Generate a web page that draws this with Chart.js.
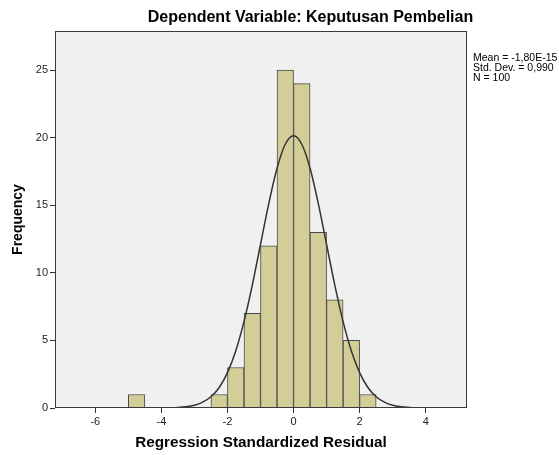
<!DOCTYPE html>
<html>
<head>
<meta charset="utf-8">
<script src="https://cdn.jsdelivr.net/npm/chart.js@4/dist/chart.umd.min.js"></script>
<style>
  html, body { margin: 0; padding: 0; background: #fff; }
  #wrap { width: 559px; height: 455px; position: relative; }
</style>
</head>
<body>
<div id="wrap"><canvas id="c" width="559" height="455"></canvas></div>
<script>
// ---- Data ----
const chartTitle = 'Dependent Variable: Keputusan Pembelian';
const xTitle = 'Regression Standardized Residual';
const yTitle = 'Frequency';
const statsLines = ['Mean = -1,80E-15', 'Std. Dev. = 0,990', 'N = 100'];

// histogram bins (centres, bin width 0.5) and frequencies
const binCenters = [-4.75, -2.25, -1.75, -1.25, -0.75, -0.25, 0.25, 0.75, 1.25, 1.75, 2.25];
const binCounts  = [1, 1, 3, 7, 12, 25, 24, 13, 8, 5, 1];

// normal curve points
const curveX = [-4, -3.75, -3.5, -3.25, -3, -2.75, -2.5, -2.25, -2, -1.75, -1.5, -1.25, -1, -0.75, -0.5, -0.25,
                0, 0.25, 0.5, 0.75, 1, 1.25, 1.5, 1.75, 2, 2.25, 2.5, 2.75, 3, 3.25, 3.5, 3.75, 4];
const curveY = [0.01, 0.02, 0.04, 0.09, 0.20, 0.43, 0.83, 1.52, 2.62, 4.22, 6.39, 9.08, 12.10, 15.12, 17.74, 19.52,
                20.15, 19.52, 17.74, 15.12, 12.10, 9.08, 6.39, 4.22, 2.62, 1.52, 0.83, 0.43, 0.20, 0.09, 0.04, 0.02, 0.01];

const xTicks = [-6, -4, -2, 0, 2, 4];
const yTicks = [0, 5, 10, 15, 20, 25];
const xMin = -7.22, xMax = 5.25;
const yMin = 0, yMax = 27.9;

// ---- Build ----
const barData = binCenters.map((x, i) => ({ x: x, y: binCounts[i] }));
const lineData = curveX.map((x, i) => ({ x: x, y: curveY[i] }));
const FONT = '"Liberation Sans", Arial, sans-serif';

const decor = {
  id: 'decor',
  beforeDraw(chart) {
    const { ctx, chartArea: a } = chart;
    ctx.save();
    ctx.fillStyle = '#ffffff';
    ctx.fillRect(0, 0, chart.width, chart.height);
    ctx.fillStyle = '#f0f0f0';
    ctx.fillRect(a.left, a.top, a.right - a.left, a.bottom - a.top);
    ctx.restore();
  },
  afterDraw(chart) {
    const { ctx, chartArea: a } = chart;
    ctx.save();
    ctx.strokeStyle = '#3a3a3a';
    ctx.lineWidth = 1;
    ctx.strokeRect(Math.round(a.left) + 0.5, Math.round(a.top) + 0.5,
                   Math.round(a.right - a.left) - 1, Math.round(a.bottom - a.top) - 1);
    // title
    ctx.fillStyle = '#000';
    ctx.font = 'bold 16px ' + FONT;
    ctx.textAlign = 'center';
    ctx.textBaseline = 'middle';
    ctx.fillText(chartTitle, 310.5, 18);
    // stats
    ctx.font = '10.5px ' + FONT;
    ctx.textAlign = 'left';
    statsLines.forEach((t, i) => ctx.fillText(t, 473, 58 + i * 10));
    ctx.restore();
  }
};

new Chart(document.getElementById('c'), {
  type: 'bar',
  data: {
    datasets: [
      {
        type: 'line',
        data: lineData,
        borderColor: '#333333',
        borderWidth: 1.5,
        pointRadius: 0,
        fill: false,
        cubicInterpolationMode: 'monotone',
        order: 0
      },
      {
        type: 'bar',
        data: barData,
        backgroundColor: '#d3ce97',
        borderColor: '#4a4a4a',
        borderWidth: 1,
        barPercentage: 1,
        categoryPercentage: 1,
        order: 1
      }
    ]
  },
  options: {
    responsive: false,
    animation: false,
    events: [],
    layout: { padding: { left: 0, top: 31, right: 92, bottom: 0 } },
    plugins: { legend: { display: false }, tooltip: { enabled: false }, title: { display: false } },
    scales: {
      x: {
        type: 'linear',
        min: xMin, max: xMax,
        offset: false,
        afterBuildTicks(s) { s.ticks = xTicks.map(v => ({ value: v })); },
        afterFit(s) { s.height = 47; },
        grid: { display: true, offset: false, drawOnChartArea: false, drawTicks: true, tickLength: 5, color: '#333', lineWidth: 1 },
        border: { display: false },
        ticks: { color: '#222', font: { size: 11, family: FONT }, padding: 2, maxRotation: 0 },
        title: { display: true, text: xTitle, color: '#000', font: { size: 15.3, weight: 'bold', family: FONT }, padding: 3 }
      },
      y: {
        min: yMin, max: yMax,
        afterBuildTicks(s) { s.ticks = yTicks.map(v => ({ value: v })); },
        afterFit(s) { s.width = 55; },
        grid: { display: true, offset: false, drawOnChartArea: false, drawTicks: true, tickLength: 5, color: '#333', lineWidth: 1 },
        border: { display: false },
        ticks: { color: '#222', font: { size: 11, family: FONT }, padding: 2 },
        title: { display: true, text: yTitle, color: '#000', font: { size: 14, weight: 'bold', family: FONT }, padding: 10 }
      }
    }
  },
  plugins: [decor]
});
</script>
</body>
</html>
